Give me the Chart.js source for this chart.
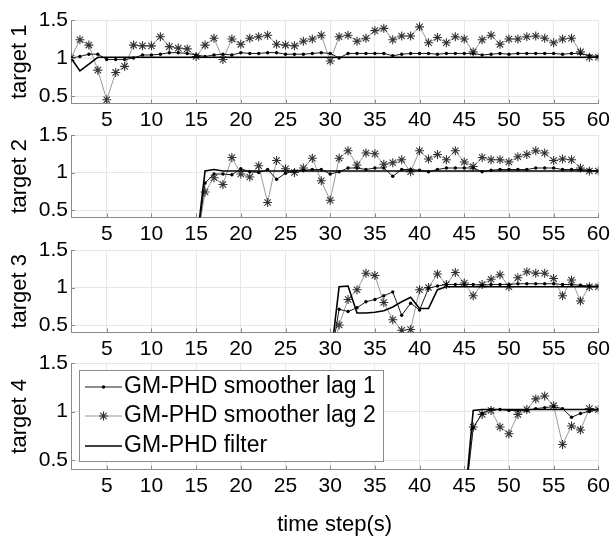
<!DOCTYPE html>
<html>
<head>
<meta charset="utf-8">
<script src="https://cdn.jsdelivr.net/npm/chart.js@4.4.1/dist/chart.umd.min.js"></script>
<style>
  body { margin: 0; background: #fff; }
  #wrap { position: relative; width: 614px; height: 538px; overflow: hidden; }
  canvas { position: absolute; left: 0; }
</style>
</head>
<body>
<div id="wrap">
  <canvas id="c1" width="614" height="134" style="top:0px"></canvas>
  <canvas id="c2" width="614" height="133" style="top:115px"></canvas>
  <canvas id="c3" width="614" height="133" style="top:230px"></canvas>
  <canvas id="c4" width="614" height="195" style="top:343px"></canvas>
</div>
<script>
// time steps and tick labels
const steps = [1,2,3,4,5,6,7,8,9,10,11,12,13,14,15,16,17,18,19,20,
  21,22,23,24,25,26,27,28,29,30,31,32,33,34,35,36,37,38,39,40,
  41,42,43,44,45,46,47,48,49,50,51,52,53,54,55,56,57,58,59,60];
const xTicks = [5,10,15,20,25,30,35,40,45,50,55,60];
const yTicks = [0.5,1,1.5];
const seriesNames = ['GM-PHD smoother lag 1', 'GM-PHD smoother lag 2', 'GM-PHD filter'];

// target 1
const lag1T1 = [1.00,1.02,1.05,1.05,0.98,0.98,0.98,1.00,1.04,1.04, 1.05,1.07,1.07,1.06,1.04,1.02,1.04,1.05,1.04,1.07,
  1.06,1.06,1.07,1.07,1.05,1.05,1.05,1.06,1.07,1.06, 1.00,1.06,1.06,1.06,1.06,1.06,1.03,1.05,1.06,1.06,
  1.06,1.05,1.06,1.06,1.06,1.06,1.04,1.05,1.06,1.05, 1.06,1.06,1.06,1.06,1.06,1.05,1.06,1.06,1.03,1.02];
const lag2T1 = [1.00,1.24,1.17,0.84,0.45,0.81,0.89,1.17,1.16,1.16, 1.28,1.15,1.13,1.12,1.02,1.17,1.26,0.98,1.25,1.18,
  1.26,1.28,1.30,1.18,1.17,1.16,1.22,1.25,1.30,0.96, 1.28,1.30,1.22,1.26,1.36,1.39,1.24,1.29,1.29,1.41,
  1.20,1.27,1.20,1.28,1.25,1.08,1.24,1.30,1.18,1.25, 1.25,1.28,1.29,1.26,1.20,1.25,1.26,1.08,1.01,1.01];
const filterT1 = [1.00,0.83,0.92,1.01,1.01,1.01,1.01,1.01,1.01,1.01, 1.01,1.01,1.01,1.01,1.01,1.01,1.01,1.01,1.01,1.01,
  1.01,1.01,1.01,1.01,1.01,1.01,1.01,1.01,1.01,1.01, 1.01,1.01,1.01,1.01,1.01,1.01,1.01,1.01,1.01,1.01,
  1.01,1.01,1.01,1.01,1.01,1.01,1.01,1.01,1.01,1.01, 1.01,1.01,1.01,1.01,1.01,1.01,1.01,1.01,1.01,1.01];

// target 2 (born at step 16)
const lag1T2 = [0,0,0,0,0,0,0,0,0,0, 0,0,0,0,0,0.86,0.98,0.98,0.97,1.05,
  1.01,1.00,1.04,0.91,0.99,1.02,1.03,1.04,1.04,0.98, 1.01,1.06,1.06,1.04,1.06,1.06,0.95,1.04,1.04,1.03,
  1.01,1.04,1.06,1.06,1.06,1.06,1.01,1.03,1.04,1.04, 1.04,1.04,1.06,1.06,1.06,1.04,1.04,1.04,1.03,1.02];
const lag2T2 = [0,0,0,0,0,0,0,0,0,0, 0,0,0,0,0,0.74,0.93,0.84,1.20,0.98,
  0.94,1.09,0.60,1.16,1.05,1.00,1.06,1.19,0.89,0.63, 1.19,1.29,1.10,1.26,1.25,1.11,1.13,1.17,1.01,1.29,
  1.18,1.24,1.17,1.29,1.14,1.08,1.20,1.17,1.17,1.14, 1.21,1.24,1.29,1.26,1.16,1.18,1.17,1.06,1.02,1.02];
const filterT2 = [0,0,0,0,0,0,0,0,0,0, 0,0,0,0,0,1.02,1.04,1.02,1.02,1.02,
  1.02,1.02,1.02,1.02,1.02,1.02,1.02,1.02,1.02,1.02, 1.02,1.02,1.02,1.02,1.02,1.02,1.02,1.02,1.02,1.02,
  1.02,1.02,1.02,1.02,1.02,1.02,1.02,1.02,1.02,1.02, 1.02,1.02,1.02,1.02,1.02,1.02,1.02,1.02,1.02,1.02];

// target 3 (born at step 31)
const lag1T3 = [0,0,0,0,0,0,0,0,0,0, 0,0,0,0,0,0,0,0,0,0,
  0,0,0,0,0,0,0,0,0,0, 0.71,0.68,0.73,0.81,0.84,0.89,0.94,0.63,0.79,0.70,
  0.99,1.02,1.04,1.04,1.04,1.04,1.03,1.04,1.04,1.04, 1.05,1.05,1.05,1.05,1.05,1.04,1.04,1.03,1.02,1.02];
const lag2T3 = [0,0,0,0,0,0,0,0,0,0, 0,0,0,0,0,0,0,0,0,0,
  0,0,0,0,0,0,0,0,0,0, 0.50,0.84,0.97,1.19,1.16,0.80,0.57,0.43,0.44,0.97,
  1.00,1.18,1.04,1.20,1.06,0.89,1.04,1.11,1.17,1.01, 1.13,1.21,1.19,1.19,1.12,0.89,1.10,0.82,1.01,1.01];
const filterT3 = [0,0,0,0,0,0,0,0,0,0, 0,0,0,0,0,0,0,0,0,0,
  0,0,0,0,0,0,0,0,0,0, 1.01,1.02,0.66,0.66,0.67,0.69,0.74,0.81,0.87,0.72,
  0.72,0.97,1.01,1.01,1.01,1.01,1.01,1.01,1.01,1.01, 1.01,1.01,1.01,1.01,1.01,1.01,1.01,1.01,1.01,1.01];

// target 4 (born at step 46)
const lag1T4 = [0,0,0,0,0,0,0,0,0,0, 0,0,0,0,0,0,0,0,0,0,
  0,0,0,0,0,0,0,0,0,0, 0,0,0,0,0,0,0,0,0,0,
  0,0,0,0,0,0.83,0.98,1.02,1.02,1.01, 1.01,1.01,1.03,1.04,1.05,1.03,0.94,0.98,1.00,1.02];
const lag2T4 = [0,0,0,0,0,0,0,0,0,0, 0,0,0,0,0,0,0,0,0,0,
  0,0,0,0,0,0,0,0,0,0, 0,0,0,0,0,0,0,0,0,0,
  0,0,0,0,0,0.84,0.97,1.01,0.84,0.77, 0.97,1.02,1.13,1.16,1.06,0.66,0.85,0.81,1.03,1.02];
const filterT4 = [0,0,0,0,0,0,0,0,0,0, 0,0,0,0,0,0,0,0,0,0,
  0,0,0,0,0,0,0,0,0,0, 0,0,0,0,0,0,0,0,0,0,
  0,0,0,0,0,1.01,1.02,1.02,1.02,1.02, 1.02,1.02,1.02,1.02,1.02,1.02,1.02,1.02,1.02,1.02];

Chart.defaults.font.family = '"Liberation Sans", Arial, sans-serif';
Chart.defaults.color = '#000';

const toPts = vals => vals.map((v, i) => ({ x: steps[i], y: v }));

// MATLAB style inward tick marks
const inTicks = {
  id: 'inTicks',
  afterDraw(chart) {
    const { ctx, chartArea: a, scales } = chart;
    ctx.save();
    ctx.strokeStyle = '#8a8a8a';
    ctx.lineWidth = 1;
    ctx.beginPath();
    xTicks.forEach(v => {
      const px = Math.round(scales.x.getPixelForValue(v)) + 0.5;
      ctx.moveTo(px, a.bottom); ctx.lineTo(px, a.bottom - 4);
    });
    yTicks.forEach(v => {
      const py = Math.round(scales.y.getPixelForValue(v)) + 0.5;
      ctx.moveTo(a.left, py); ctx.lineTo(a.left + 4, py);
    });
    ctx.stroke();
    ctx.restore();
  }
};

// legend box drawn inside the last panel
const legendBox = {
  id: 'legendBox',
  afterDraw(chart, args, opts) {
    if (!opts.show) return;
    const ctx = chart.ctx;
    ctx.save();
    ctx.fillStyle = '#fff';
    ctx.strokeStyle = '#8a8a8a';
    ctx.lineWidth = 1;
    ctx.fillRect(opts.left, opts.top, opts.right - opts.left, opts.bottom - opts.top);
    ctx.strokeRect(opts.left + 0.5, opts.top + 0.5, opts.right - opts.left, opts.bottom - opts.top);
    ctx.font = '23px "Liberation Sans", Arial, sans-serif';
    ctx.textBaseline = 'middle';
    ctx.textAlign = 'left';
    chart.data.datasets.forEach((ds, i) => {
      const y = opts.rows[i];
      ctx.strokeStyle = ds.borderColor;
      ctx.lineWidth = ds.borderWidth;
      ctx.beginPath();
      ctx.moveTo(opts.lineX0, y); ctx.lineTo(opts.lineX1, y);
      ctx.stroke();
      if (ds.pointRadius > 0) {
        ctx.fillStyle = ds.pointBackgroundColor;
        ctx.strokeStyle = ds.pointBorderColor;
        ctx.lineWidth = ds.pointBorderWidth;
        Chart.helpers.drawPoint(ctx, {
          pointStyle: ds.pointStyle, radius: ds.pointRadius,
          borderWidth: ds.pointBorderWidth, rotation: 0
        }, (opts.lineX0 + opts.lineX1) / 2, y);
      }
      ctx.fillStyle = '#000';
      ctx.fillText(seriesNames[i], opts.textX, y);
    });
    ctx.restore();
  }
};

const panels = [
  { id: 'c1', title: 'target 1', lag1: lag1T1, lag2: lag2T1, filt: filterT1, padTop: 20, xH: 30.4 },
  { id: 'c2', title: 'target 2', lag1: lag1T2, lag2: lag2T2, filt: filterT2, padTop: 20, xH: 30.5 },
  { id: 'c3', title: 'target 3', lag1: lag1T3, lag2: lag2T3, filt: filterT3, padTop: 20, xH: 30.5 },
  { id: 'c4', title: 'target 4', lag1: lag1T4, lag2: lag2T4, filt: filterT4, padTop: 20, xH: 68.3, last: true }
];

panels.forEach(p => {
  new Chart(document.getElementById(p.id), {
    type: 'line',
    data: {
      datasets: [
        {
          label: seriesNames[0], data: toPts(p.lag1), order: 2,
          borderColor: '#1a1a1a', borderWidth: 1,
          pointStyle: 'circle', pointRadius: 1.7, pointBackgroundColor: '#000',
          pointBorderColor: '#000', pointBorderWidth: 0
        },
        {
          label: seriesNames[1], data: toPts(p.lag2), order: 3,
          borderColor: '#9a9a9a', borderWidth: 1,
          pointStyle: 'star', pointRadius: 4.5, pointBackgroundColor: 'rgba(0,0,0,0)',
          pointBorderColor: '#333', pointBorderWidth: 1.1
        },
        {
          label: seriesNames[2], data: toPts(p.filt), order: 1,
          borderColor: '#000', borderWidth: 1.6, pointRadius: 0,
          pointStyle: 'circle', pointBackgroundColor: '#000', pointBorderColor: '#000', pointBorderWidth: 0
        }
      ]
    },
    options: {
      responsive: false,
      animation: false,
      events: [],
      layout: { padding: { top: p.padTop, right: 14, bottom: 0, left: 0 } },
      plugins: {
        legend: { display: false },
        tooltip: { enabled: false },
        legendBox: {
          show: !!p.last, left: 79, top: 27, right: 383, bottom: 118,
          rows: [44, 73, 103], lineX0: 85, lineX1: 122, textX: 124
        }
      },
      scales: {
        x: {
          type: 'linear', min: 1, max: 60,
          afterBuildTicks: s => { s.ticks = xTicks.map(v => ({ value: v })); },
          afterFit: s => { s.height = p.xH; },
          ticks: { font: { size: 21 }, padding: 4, maxRotation: 0, autoSkip: false },
          grid: { color: '#e6e6e6', drawTicks: false },
          border: { color: '#8a8a8a' },
          title: {
            display: !!p.last, text: 'time step(s)', font: { size: 22 },
            padding: { top: 0, bottom: 0 }
          }
        },
        y: {
          min: 0.4, max: 1.5,
          afterBuildTicks: s => { s.ticks = yTicks.map(v => ({ value: v })); },
          afterFit: s => { s.width = 71; },
          ticks: { font: { size: 21 }, padding: 3, callback: v => String(v) },
          grid: { color: '#e6e6e6', drawTicks: false },
          border: { color: '#8a8a8a' },
          title: { display: true, text: p.title, font: { size: 22 }, padding: { top: 7, bottom: 0 } }
        }
      }
    },
    plugins: [inTicks, legendBox]
  });
});
</script>
</body>
</html>
